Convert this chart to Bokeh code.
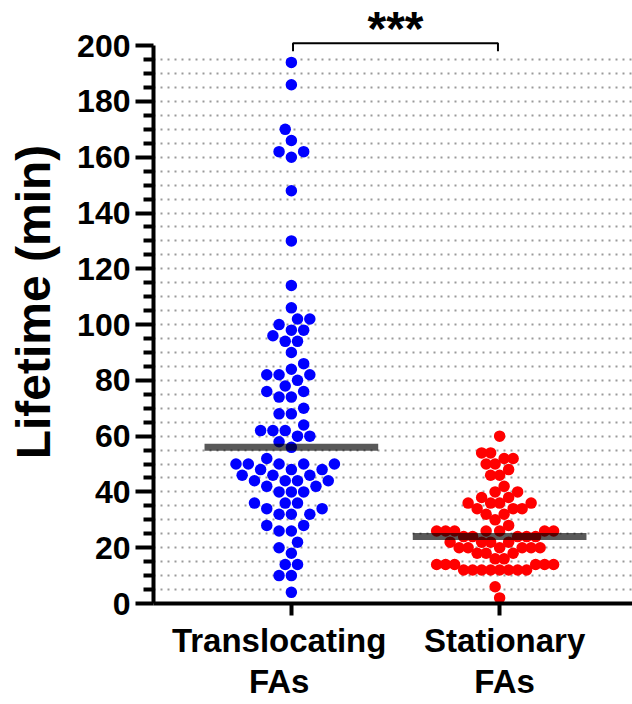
import numpy as np
from bokeh.plotting import figure
from bokeh.models import Range1d, FixedTicker, LinearAxis, ColumnDataSource
from bokeh.embed import file_html
from bokeh.resources import INLINE
from bokeh.core.properties import value

# ---------------- data ----------------
categories_line1 = ["Translocating", "Stationary"]
categories_line2 = ["FAs", "FAs"]
translocating = [194, 186, 170, 166, 162, 162, 160, 148, 130, 114,
                 106, 102, 102, 100, 98, 98, 96, 94, 94, 90,
                 86, 84, 82, 82, 82, 80, 78, 76, 76, 74,
                 74, 70, 68, 68, 64, 62, 62, 62, 60, 60,
                 58, 56, 52, 50, 50, 50, 50, 50, 48, 48,
                 48, 46, 46, 46, 44, 44, 44, 44, 42, 42,
                 40, 40, 40, 36, 36, 36, 34, 34, 32, 32,
                 32, 28, 28, 26, 26, 22, 20, 18, 14, 14,
                 10, 10, 4]
stationary = [60, 54, 54, 52, 52, 50, 50, 48, 46, 46,
              42, 40, 40, 38, 38, 36, 36, 36, 36, 34,
              34, 34, 32, 32, 30, 28,
              26, 26, 26, 26, 26, 26, 26,
              24, 24, 24, 24, 24,
              22, 22, 22, 22,
              20, 20, 20, 20, 20, 20,
              18, 18, 18,
              16, 16,
              14, 14, 14, 14, 14, 14,
              12, 12, 12, 12, 12, 12, 12, 12,
              6, 2]
y_major_ticks = list(range(0, 201, 20))
y_minor_ticks = [v for v in range(5, 200, 5) if v % 20 != 0]
grid_ticks = list(range(5, 200, 5))
significance = "***"
y_label = "Lifetime (min)"

# ---------------- layout ----------------
W, H = 632, 704
LEFT, RIGHT, TOP, BOTTOM = 153, 0, 0, 101
X_LO, X_HI = 0.338, 2.638
Y_LO, Y_HI = 0.0, 216.2
FW = W - LEFT - RIGHT
FH = H - TOP - BOTTOM
XPX = FW / (X_HI - X_LO)
YPX = FH / (Y_HI - Y_LO)

FONT = "Liberation Sans"


def swarm(vals, dia, maxw):
    vals = np.asarray(vals, dtype=float)
    order = np.argsort(vals, kind="stable")
    step = dia / 2.0
    cand = [0] + [s * k for k in range(1, 80) for s in (-1, 1)]
    placed = []
    xs = np.zeros(len(vals))
    for i in order:
        yv = vals[i] * YPX
        for k in cand:
            xv = k * step
            ok = True
            for (px, py) in placed:
                if (xv - px) ** 2 + (yv - py) ** 2 < dia * dia - 1e-6:
                    ok = False
                    break
            if ok:
                break
        placed.append((xv, yv))
        xs[i] = xv
    m = np.abs(xs).max()
    if m > maxw:
        xs *= maxw / m
    return xs / XPX


p = figure(width=W, height=H,
           x_range=Range1d(X_LO, X_HI), y_range=Range1d(Y_LO, Y_HI),
           output_backend="svg", toolbar_location=None,
           min_border_left=LEFT, min_border_right=RIGHT,
           min_border_top=TOP, min_border_bottom=BOTTOM)
p.outline_line_color = None
p.background_fill_color = "white"
p.border_fill_color = "white"

# grid
p.xgrid.visible = False
p.ygrid.ticker = FixedTicker(ticks=grid_ticks)
p.ygrid.grid_line_color = "#9a9a9a"
p.ygrid.grid_line_width = 2
p.ygrid.grid_line_dash = "2 5"

# y axis
ya = p.yaxis[0]
ya.ticker = FixedTicker(ticks=y_major_ticks, minor_ticks=y_minor_ticks)
ya.bounds = (0, 200)
ya.axis_line_width = 4
ya.axis_line_color = "black"
ya.major_tick_line_width = 4
ya.major_tick_out = 18
ya.major_tick_in = 0
ya.minor_tick_line_width = 4
ya.minor_tick_out = 10
ya.minor_tick_in = 0
ya.major_label_text_font = FONT
ya.major_label_text_font_style = "bold"
ya.major_label_text_font_size = "32px"
ya.major_label_text_color = "black"
ya.major_label_standoff = 5
ya.axis_label = y_label
ya.axis_label_text_font = FONT
ya.axis_label_text_font_style = "bold"
ya.axis_label_text_font_size = "48px"
ya.axis_label_text_color = "black"
ya.axis_label_standoff = 14

# x axis (line + ticks, labels not drawn)
xa = p.xaxis[0]
xa.ticker = FixedTicker(ticks=[1, 2], minor_ticks=[])
xa.axis_line_width = 4
xa.axis_line_color = "black"
xa.major_tick_line_width = 4
xa.major_tick_out = 12
xa.major_tick_in = 0
xa.minor_tick_line_color = None
xa.major_label_text_color = None
xa.major_label_text_font_size = "0px"
xa.major_label_standoff = 0

# x axis category labels (two lines, slightly off the ticks as in the reference)
label_pos = [0.9414, 2.024]


def label_axis(texts, standoff):
    ax = LinearAxis(ticker=FixedTicker(ticks=label_pos, minor_ticks=[]),
                    major_label_overrides={label_pos[i]: texts[i] for i in range(len(texts))})
    ax.axis_line_color = None
    ax.major_tick_line_color = None
    ax.minor_tick_line_color = None
    ax.major_tick_out = 0
    ax.major_tick_in = 0
    ax.major_label_standoff = standoff
    ax.major_label_text_font = FONT
    ax.major_label_text_font_style = "bold"
    ax.major_label_text_font_size = "33px"
    ax.major_label_text_color = "black"
    return ax


p.add_layout(label_axis(categories_line1, 6), "below")
p.add_layout(label_axis(categories_line2, 1), "below")

# points
DIA = 12.3
groups = [(translocating, "#0000ff", 1), (stationary, "#ff0000", 2)]
for vals, col, cx in groups:
    offs = swarm(vals, DIA, 63.0)
    src = ColumnDataSource(dict(x=cx + offs, y=vals))
    p.scatter("x", "y", source=src, size=11.5, fill_color=col, line_color=None, marker="circle")

# medians
half = 0.417
for vals, col, cx in groups:
    med = float(np.median(vals))
    p.segment(x0=[cx - half], x1=[cx + half], y0=[med], y1=[med],
              line_width=7, line_color="black", line_alpha=0.65, line_cap="butt")

# significance bracket
e = 0.008
p.line(x=[1 + e, 1 + e, 2 - e, 2 - e], y=[198.0, 200.9, 200.9, 198.0],
       line_width=2, line_color="black")
p.text(x=[1.5], y=[Y_HI - 1.0 / YPX], text=[significance], text_font=value(FONT),
       text_font_style="bold", text_font_size="48px", text_align="center",
       text_baseline="top", text_color="black")

open("out.html", "w").write(file_html(p, INLINE))
